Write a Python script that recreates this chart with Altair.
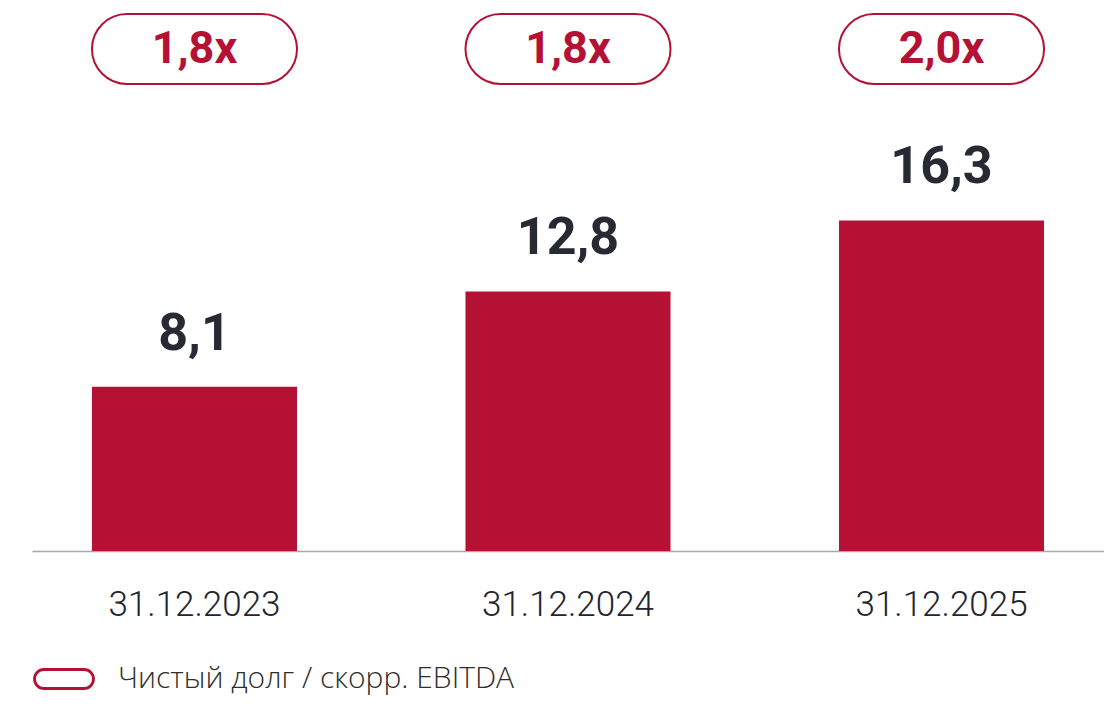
import altair as alt
import pandas as pd

dates = ["31.12.2023", "31.12.2024", "31.12.2025"]
net_debt = [8.1, 12.8, 16.3]
value_labels = ["8,1", "12,8", "16,3"]
ratio_labels = ["1,8x", "1,8x", "2,0x"]
series_name = "Чистый долг / скорр. EBITDA"

RED = "#b41135"
DARK = "#272a33"

df = pd.DataFrame({
    "date": dates,
    "value": net_debt,
    "vlabel": value_labels,
    "ratio": ratio_labels,
    "series": [series_name] * len(dates),
})

xscale = alt.Scale(paddingInner=0.451, paddingOuter=0.1605)
x = alt.X("date:N", scale=xscale, sort=dates,
          axis=alt.Axis(title=None, labelAngle=0, ticks=False, tickSize=0,
                        labelPadding=64, labelBaseline="alphabetic",
                        labelFont="Roboto", labelFontSize=35, labelFontWeight=300,
                        labelColor="#22252d", domainColor="#a8a8a8", domainWidth=1.5,
                        grid=False))
yscale = alt.Scale(domain=[0, 26.78])

base = alt.Chart(df)

bars = base.mark_bar(color=RED).encode(
    x=x,
    y=alt.Y("value:Q", scale=yscale, axis=None),
)

vals = base.mark_text(font="Roboto", fontWeight="bold", fontSize=52,
                      color=DARK, baseline="alphabetic", dy=-37).encode(
    x=alt.X("date:N", sort=dates),
    y=alt.Y("value:Q", scale=yscale),
    text="vlabel:N",
)

pill_path = "M-2,-0.95 L2,-0.95 A0.95,0.95 0 0 1 2,0.95 L-2,0.95 A0.95,0.95 0 0 1 -2,-0.95 Z"

pills = base.mark_bar(fill="white", strokeWidth=2, cornerRadius=35).encode(
    x=alt.X("date:N", sort=dates),
    y=alt.value(6),
    y2=alt.value(76),
    stroke=alt.Stroke("series:N", scale=alt.Scale(range=[RED]),
                      legend=alt.Legend(title=None, orient="none", legendX=14, legendY=653,
                                        symbolType=pill_path, symbolSize=400,
                                        symbolStrokeWidth=2.8, symbolFillColor="white",
                                        symbolStrokeColor=RED,
                                        labelFont="Open Sans", labelFontSize=30,
                                        labelFontWeight=300, labelLimit=0,
                                        labelColor="#2e2e2e", labelOffset=39,
                                        padding=3)),
)

ratios = base.mark_text(font="Roboto", fontWeight="bold", fontSize=45,
                        color=RED, baseline="middle").encode(
    x=alt.X("date:N", sort=dates),
    y=alt.value(41),
    text="ratio:N",
)

chart = alt.layer(bars, vals, pills, ratios).properties(
    width=1072, height=543,
    padding={"left": 24, "top": 0, "right": 0, "bottom": 0},
    background="white",
).configure_view(stroke=None)

chart.save("out.html", embed_options={"renderer": "svg", "actions": False})
